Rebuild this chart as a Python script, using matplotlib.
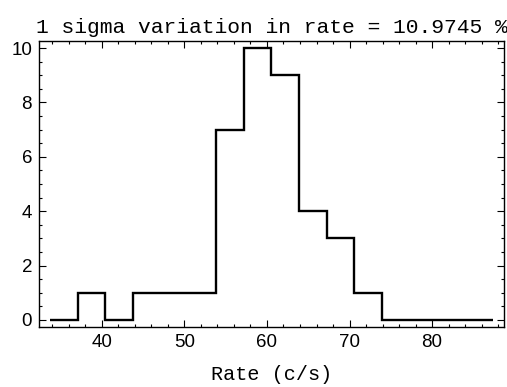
import matplotlib
matplotlib.use("Agg")
import matplotlib.pyplot as plt
from matplotlib.ticker import MultipleLocator
import numpy as np

bin_edges = [33.74, 37.09, 40.44, 43.79, 47.14, 50.49, 53.84, 57.19, 60.54,
             63.89, 67.24, 70.59, 73.94, 77.29, 80.64, 83.99, 87.34]
counts = [0, 1, 0, 1, 1, 1, 7, 10, 9, 4, 3, 1, 0, 0, 0, 0]
title = "1 sigma variation in rate = 10.9745 %"
xlabel = "Rate (c/s)"

fig = plt.figure(figsize=(5.07, 3.87), dpi=100)
ax = fig.add_axes([0.077, 0.155, 0.917, 0.739])

ax.stairs(counts, bin_edges, color="black", linewidth=1.7, baseline=None)

ax.set_xlim(32.4, 88.7)
ax.set_ylim(-0.26, 10.26)
ax.xaxis.set_major_locator(MultipleLocator(10))
ax.xaxis.set_minor_locator(MultipleLocator(2))
ax.yaxis.set_major_locator(MultipleLocator(2))
ax.yaxis.set_minor_locator(MultipleLocator(0.5))
ax.tick_params(which="both", direction="in", top=True, right=True,
               labeltop=False, labelright=False, width=0.8)
ax.tick_params(which="major", length=5, labelsize=13.5, pad=5)
ax.tick_params(which="minor", length=2.5)
for lab in ax.get_xticklabels() + ax.get_yticklabels():
    lab.set_family("Liberation Sans")
for s in ax.spines.values():
    s.set_linewidth(1.0)

ax.set_title(title, family="Liberation Mono", fontsize=15.3, pad=6)
ax.set_xlabel(xlabel, family="Liberation Mono", fontsize=14.5, labelpad=10)

fig.savefig("out.png", dpi=100)
